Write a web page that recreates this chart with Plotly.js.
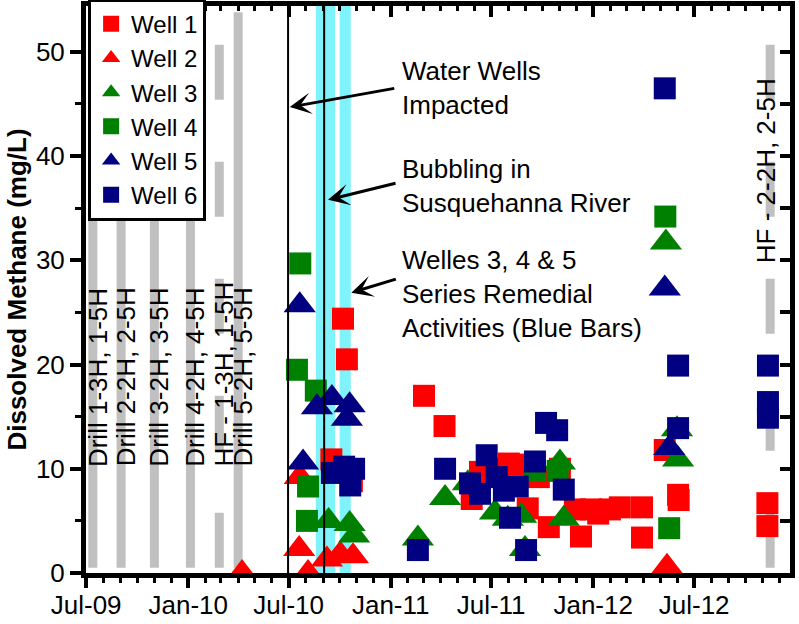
<!DOCTYPE html>
<html><head><meta charset="utf-8">
<script src="https://cdn.plot.ly/plotly-3.0.1.min.js"></script>
<style>html,body{margin:0;padding:0;background:#fff}#chart{width:799px;height:624px}</style>
</head><body><div id="chart"></div>
<script>
// ---------- data ----------
const well1Dates = ['2010-09-16','2010-10-07','2010-10-14','2010-10-23','2011-03-02','2011-04-08','2011-05-27','2011-06-11','2011-07-08','2011-08-02','2011-08-13','2011-09-05','2011-09-25','2011-10-13','2011-11-02','2011-11-29','2011-12-10','2011-12-28','2012-01-10','2012-01-31','2012-02-18','2012-03-29','2012-03-29','2012-05-09','2012-06-02','2012-06-03','2012-11-10','2012-11-10'];
const well1Values = [10.9,24.4,20.5,8.8,17.0,14.1,7.1,9.7,10.0,10.5,10.4,6.2,9.2,4.4,10.0,6.1,3.5,6.1,5.7,6.1,6.3,6.3,3.4,11.8,7.5,7.0,6.7,4.5];

const well2Dates = ['2010-04-08','2010-07-20','2010-07-21','2010-08-05','2010-09-08','2010-10-02','2010-10-25','2012-05-13'];
const well2Values = [0,2.3,9.2,0,1.3,1.8,1.6,0.6];

const well3Dates = ['2010-09-11','2010-10-19','2010-10-27','2011-02-19','2011-04-09','2011-05-20','2011-07-08','2011-07-31','2011-08-24','2011-08-31','2011-11-02','2011-11-09','2012-05-11','2012-05-31','2012-06-02'];
const well3Values = [5.0,4.7,3.6,3.3,7.2,8.6,5.8,5.2,5.5,2.3,10.6,5.2,31.7,13.8,10.9];

const well4Dates = ['2010-07-16','2010-07-22','2010-08-05','2010-08-03','2010-08-19','2011-09-18','2011-10-29','2012-05-10','2012-05-17'];
const well4Values = [19.5,29.7,8.3,5.0,17.5,9.8,9.8,34.2,4.3];

const well5Dates = ['2010-07-21','2010-07-27','2010-08-21','2010-09-17','2010-10-19','2010-10-14','2012-05-09','2012-05-17'];
const well5Values = [25.7,10.6,15.9,16.8,16.1,14.8,27.3,12.0];

const well6Dates = ['2010-09-17','2010-10-09','2010-10-20','2010-10-27','2011-02-19','2011-04-09','2011-05-24','2011-06-11','2011-06-23','2011-07-11','2011-07-24','2011-08-04','2011-08-18','2011-09-02','2011-09-18','2011-10-08','2011-10-28','2011-11-09','2012-05-09','2012-06-02','2012-06-02','2012-11-11','2012-11-11','2012-11-11'];
const well6Values = [9.6,10.2,8.4,10.0,2.2,10.0,8.6,7.6,11.3,9.2,7.9,5.3,8.3,2.2,10.7,14.4,13.7,8.0,46.5,19.9,13.9,19.9,16.4,14.9];

const eventDates = ['2009-07-13','2009-09-02','2009-11-01','2010-01-05','2010-02-26','2010-04-01','2012-11-15'];
const eventLabels = ['Drill 1-3H, 1-5H','Drill 2-2H, 2-5H','Drill 3-2H, 3-5H','Drill 4-2H, 4-5H','HF - 1-3H, 1-5H','Drill 5-2H, 5-5H','HF - 2-2H, 2-5H'];

const impactDate = '2010-06-30';
const bubblingDate = '2010-09-03';
const remedialStarts = ['2010-08-19','2010-10-01'];
const remedialEnds = ['2010-09-23','2010-10-21'];

const yTickVals = [0,10,20,30,40,50];
const yTickText = ['0','10','20','30','40','50'];

// ---------- chart ----------
const FONT = 'Liberation Sans, Arial, sans-serif';
const X_RANGE = ['2009-06-30 18:00','2012-12-20 18:00'];
const Y_RANGE = [0, 54.4];
const RED = '#ff0000', GREEN = '#008000', NAVY = '#000080';

const traces = [];
// gray event bars
eventDates.forEach((d, i) => {
  const hf = eventLabels[i].startsWith('HF');
  traces.push({
    x: [d, d], y: [0.5, hf ? 51 : 53.8], mode: 'lines', showlegend: false, hoverinfo: 'skip',
    line: {color: '#c0c0c0', width: 9, dash: hf ? '55px,62px' : 'solid'}
  });
});

function wellTrace(name, xs, ys, symbol, color) {
  return {x: xs, y: ys, name: name, mode: 'markers', type: 'scatter',
    marker: {symbol: symbol, size: symbol === 'square' ? 22 : 28, color: color, line: {width: 0}}};
}
traces.push(wellTrace('Well 1', well1Dates, well1Values, 'square', RED));
traces.push(wellTrace('Well 2', well2Dates, well2Values, 'triangle-up', RED));
traces.push(wellTrace('Well 3', well3Dates, well3Values, 'triangle-up', GREEN));
traces.push(wellTrace('Well 4', well4Dates, well4Values, 'square', GREEN));
traces.push(wellTrace('Well 5', well5Dates, well5Values, 'triangle-up', NAVY));
traces.push(wellTrace('Well 6', well6Dates, well6Values, 'square', NAVY));

[impactDate, bubblingDate].forEach(d => {
  traces.push({x: [d, d], y: [0, Y_RANGE[1]], mode: 'lines', showlegend: false, hoverinfo: 'skip',
    line: {color: '#000', width: 2}});
});

// dummy trace for mirrored (inside) top/right axes
traces.push({x: [], y: [], xaxis: 'x2', yaxis: 'y2', showlegend: false, hoverinfo: 'skip', mode: 'markers'});

const shapes = remedialStarts.map((s, i) => ({
  type: 'rect', xref: 'x', yref: 'paper', x0: s, x1: remedialEnds[i], y0: 0, y1: 1,
  fillcolor: '#80f2fc', line: {width: 0}, layer: 'below'
}));

const annotations = [];
eventDates.forEach((d, i) => {
  const hf2 = i === eventDates.length - 1;
  annotations.push({x: d, y: hf2 ? 29.5 : 10, xref: 'x', yref: 'y', text: eventLabels[i],
    textangle: -90, showarrow: false, xanchor: 'center', yanchor: 'bottom', xshift: hf2 ? -4 : 5,
    font: {family: FONT, size: 26, color: '#000'}});
});
const noteTexts = ['Water Wells<br>Impacted', 'Bubbling in<br>Susquehanna River', 'Welles 3, 4 &amp; 5<br>Series Remedial<br>Activities (Blue Bars)'];
const noteY = [0.855, 0.682, 0.492];
noteTexts.forEach((t, i) => {
  annotations.push({xref: 'paper', yref: 'paper', x: 0.446, y: noteY[i], xanchor: 'left', yanchor: 'middle',
    align: 'left', text: t, showarrow: false, font: {family: FONT, size: 26, color: '#000'}});
});
const arrowHeads = [[ '2010-07-03', 44.7, 106, -19 ], [ '2010-09-10', 35.8, 69, -17 ], [ '2010-10-22', 26.9, 46, -14 ]];
arrowHeads.forEach(a => {
  annotations.push({xref: 'x', yref: 'y', x: a[0], y: a[1], ax: a[2], ay: a[3], text: '',
    showarrow: true, arrowhead: 3, arrowsize: 1.2, arrowwidth: 3, arrowcolor: '#000', standoff: 0});
});

const layout = {
  width: 799, height: 624,
  margin: {l: 86, r: 9, t: 6, b: 51, autoexpand: false},
  paper_bgcolor: '#fff', plot_bgcolor: '#fff',
  font: {family: FONT, size: 26, color: '#000'},
  hovermode: false,
  showlegend: true,
  legend: {x: 0.003, y: 1.013, xanchor: 'left', yanchor: 'top', bgcolor: '#fff',
    bordercolor: '#000', borderwidth: 3, font: {family: FONT, size: 24, color: '#000'}, traceorder: 'normal'},
  xaxis: {type: 'date', range: X_RANGE, showgrid: false, zeroline: false, automargin: false,
    showline: true, linewidth: 5, linecolor: '#000',
    ticks: 'outside', ticklen: 10, tickwidth: 4, tickcolor: '#000',
    tick0: '2009-07-01', dtick: 'M6', tickformat: '%b-%y', ticklabelstandoff: -5,
    minor: {ticks: 'outside', dtick: 'M1', tick0: '2009-07-01', ticklen: 5, tickwidth: 3, tickcolor: '#000', showgrid: false},
    tickfont: {family: FONT, size: 26, color: '#000'}},
  yaxis: {range: Y_RANGE, showgrid: false, zeroline: false, automargin: false,
    showline: true, linewidth: 5, linecolor: '#000',
    ticks: 'outside', ticklen: 11, tickwidth: 4, tickcolor: '#000',
    tickmode: 'array', tickvals: yTickVals, ticktext: yTickText,
    minor: {ticks: 'outside', dtick: 5, tick0: 0, ticklen: 6, tickwidth: 3, tickcolor: '#000', showgrid: false},
    tickfont: {family: FONT, size: 26, color: '#000'},
    title: {text: 'Dissolved Methane (mg/L)', standoff: 3, font: {family: FONT, size: 26, color: '#000', weight: 'bold'}}},
  xaxis2: {type: 'date', overlaying: 'x', side: 'top', matches: 'x', range: X_RANGE, showgrid: false, zeroline: false,
    showline: true, linewidth: 5, linecolor: '#000', showticklabels: false,
    ticks: 'inside', ticklen: 11, tickwidth: 4, tickcolor: '#000', tick0: '2009-07-01', dtick: 'M6',
    minor: {ticks: 'inside', dtick: 'M1', tick0: '2009-07-01', ticklen: 5, tickwidth: 3, tickcolor: '#000', showgrid: false}},
  yaxis2: {overlaying: 'y', side: 'right', matches: 'y', range: Y_RANGE, showgrid: false, zeroline: false,
    showline: true, linewidth: 5, linecolor: '#000', showticklabels: false,
    ticks: 'inside', ticklen: 10, tickwidth: 4, tickcolor: '#000', tick0: 0, dtick: 5},
  shapes: shapes,
  annotations: annotations
};

Plotly.newPlot('chart', traces, layout, {staticPlot: true, displayModeBar: false});
</script>
</body></html>
